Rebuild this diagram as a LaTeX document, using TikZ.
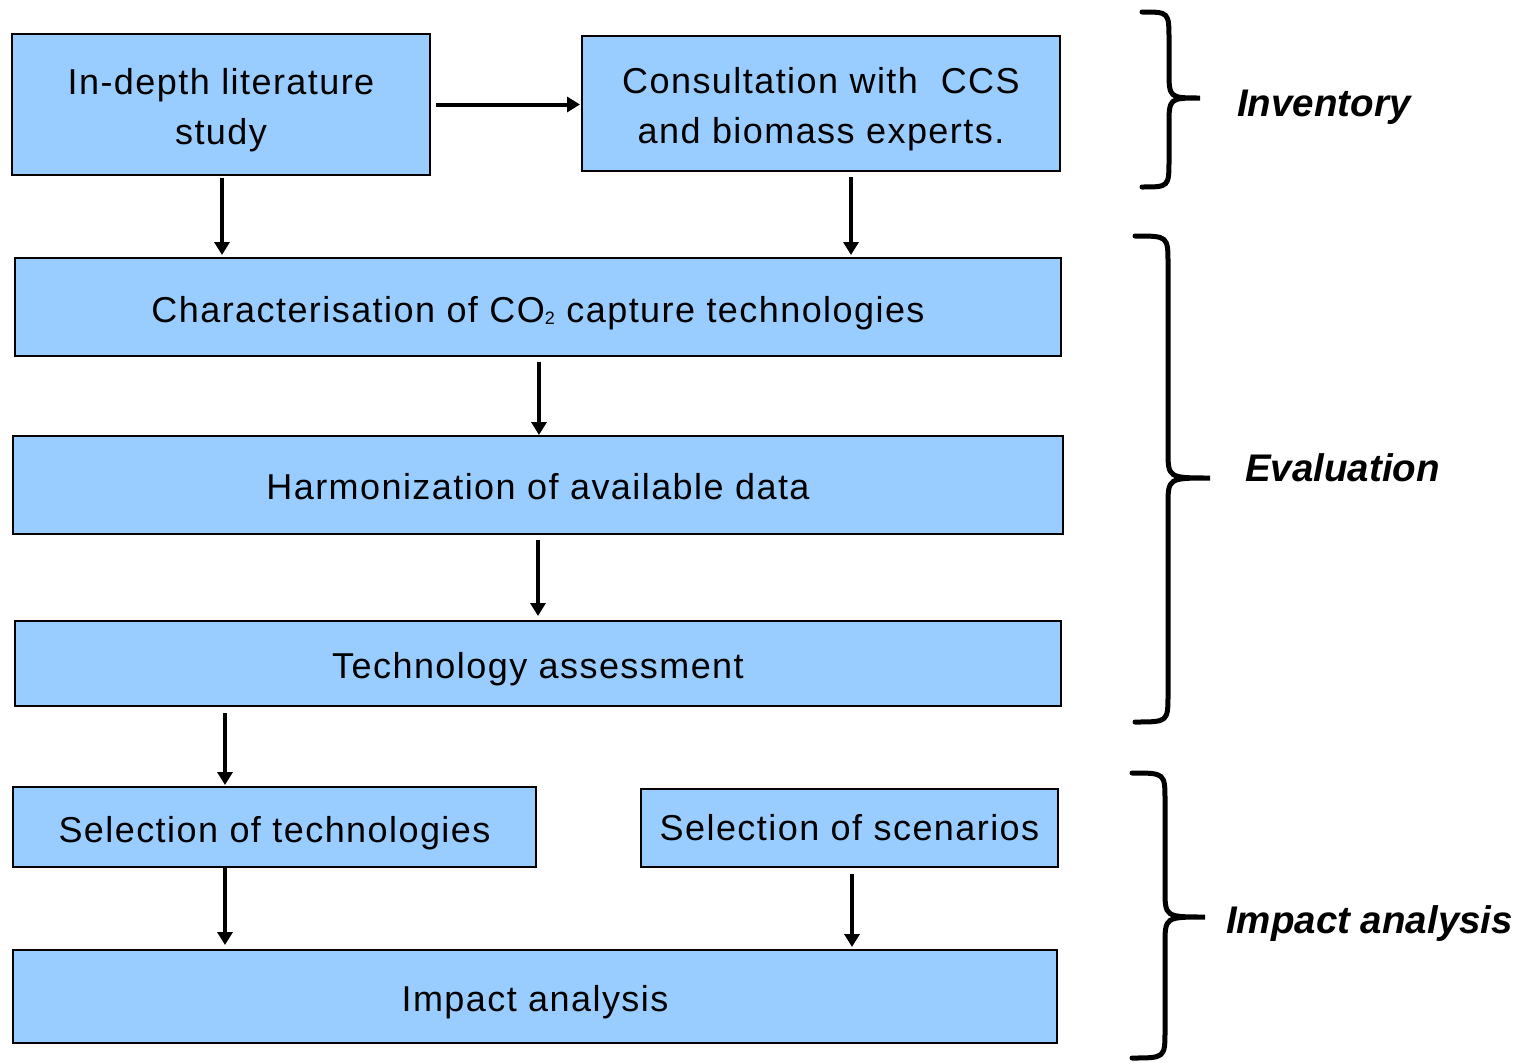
\documentclass[tikz,border=0pt]{standalone}
\usepackage{fontspec}
\setmainfont{Liberation Sans}
\usetikzlibrary{arrows.meta}
\definecolor{boxblue}{HTML}{99CCFF}
\newcommand{\bs}{\rule[-4pt]{0pt}{42pt}}
\newcommand{\bsup}[1]{\rule[-#1]{0pt}{40pt}}
\tikzset{
  box/.style={draw=black, line width=2pt, fill=boxblue, inner sep=0pt, align=center,
    font=\fontsize{36}{50}\selectfont\addfontfeature{LetterSpace=4}},
  flow/.style={line width=4pt, -{Triangle[length=13pt,width=15pt]}},
  brace/.style={line width=5pt, line cap=round},
  phase/.style={font=\fontsize{38.5}{40}\selectfont\bfseries\itshape, anchor=west, inner sep=0pt}
}
\newcommand{\mybrace}[6]{% xl, top, xv, mid, xt, bottom
  \draw[brace] (#1,#2) .. controls (#3,#2) .. (#3,#2+28) -- (#3,#4-28)
    .. controls (#3,#4) .. (#5,#4) .. controls (#3,#4) .. (#3,#4+28) -- (#3,#6-28)
    .. controls (#3,#6) .. (#1,#6);}
\begin{document}
\begin{tikzpicture}[x=1pt,y=-1pt]
\useasboundingbox (0,0) rectangle (1519,1063);
\node[box, minimum width=418pt, minimum height=141pt] (lit) at (221,104.5) {\bs In-depth literature\\\bs study};
\node[box, minimum width=478pt, minimum height=135pt] (con) at (821,103.5) {\bs Consultation with\ \ CCS\\\bs and biomass experts.};
\node[box, minimum width=1046pt, minimum height=98pt] (char) at (538,307) {\bs Characterisation of CO\raisebox{-2pt}{\fontsize{18}{20}\selectfont 2} capture technologies};
\node[box, minimum width=1050pt, minimum height=98pt] (harm) at (538,485) {\bsup{6pt}Harmonization of available data};
\node[box, minimum width=1046pt, minimum height=85pt] (tech) at (538,663.5) {\bs Technology assessment};
\node[box, minimum width=523pt, minimum height=80pt] (seltech) at (274.5,827) {\bs Selection of technologies};
\node[box, minimum width=417pt, minimum height=78pt] (selscen) at (849.5,828) {\bsup{8pt}Selection of scenarios};
\node[box, minimum width=1044pt, minimum height=93pt] (imp) at (535,996.5) {\bs Impact analysis};

\draw[flow] ([xshift=5pt]lit.east) -- ([xshift=-1pt]con.west |- lit.east);
\draw[flow] ([yshift=-2pt]lit.south -| 222,0) -- ([yshift=2pt]char.north -| 222,0);
\draw[flow] ([yshift=-5pt]con.south -| 851,0) -- ([yshift=2pt]char.north -| 851,0);
\draw[flow] ([yshift=-5pt]char.south -| 539,0) -- (harm.north -| 539,0);
\draw[flow] ([yshift=-5pt]harm.south) -- ([yshift=4pt]tech.north);
\draw[flow] ([yshift=-6pt]tech.south -| 225,0) -- ([yshift=1pt]seltech.north -| 225,0);
\draw[flow] (seltech.south -| 225,0) -- ([yshift=4pt]imp.north -| 225,0);
\draw[flow] ([yshift=-6pt]selscen.south -| 852,0) -- ([yshift=2pt]imp.north -| 852,0);

\mybrace{1142}{12}{1169}{98}{1200}{187}
\mybrace{1135}{236}{1168}{478}{1210}{722}
\mybrace{1132}{773}{1165}{917}{1205}{1058}

\node[phase] (inv) at (1237,107) {Inventory};
\node[phase] (eval) at (1245,468) {Evaluation};
\node[phase] (impl) at (1226,924) {Impact analysis};
\end{tikzpicture}
\end{document}
